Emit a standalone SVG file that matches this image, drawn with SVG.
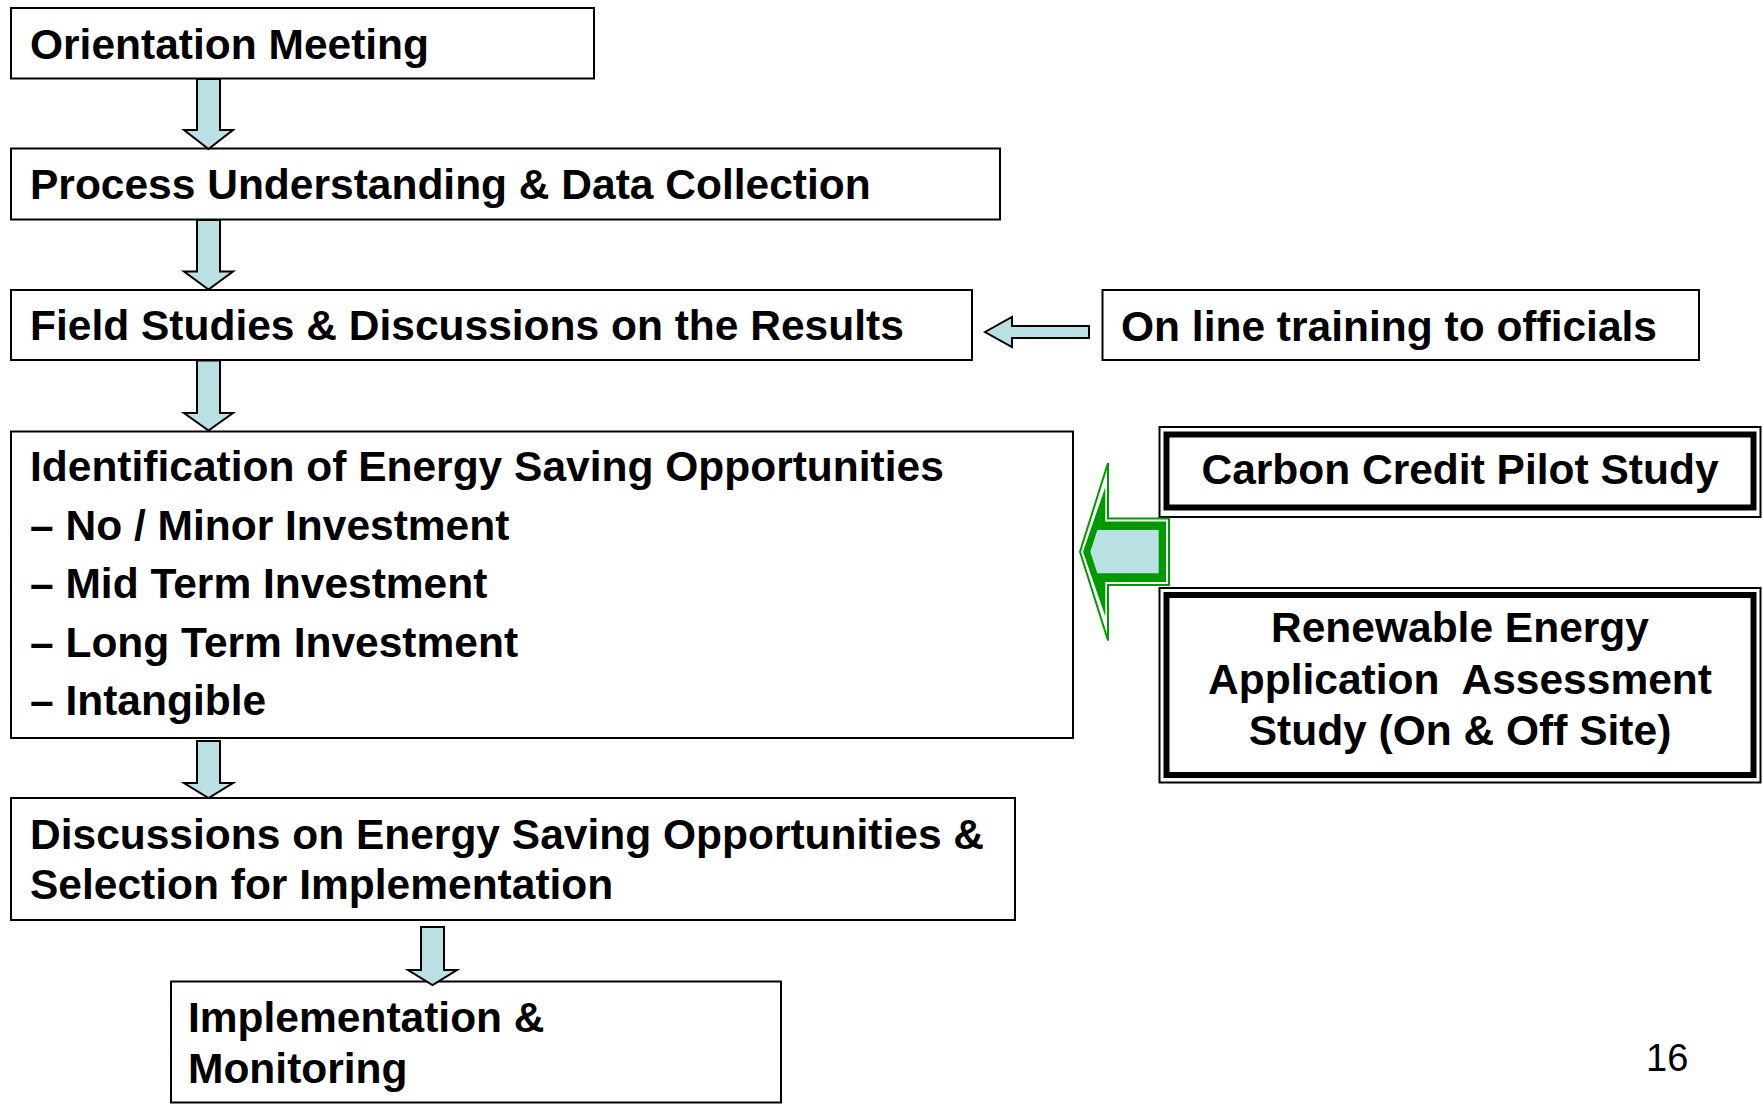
<svg xmlns="http://www.w3.org/2000/svg" width="1762" height="1104" viewBox="0 0 1762 1104">
<style>
.box{fill:#fff;stroke:#000;stroke-width:2}
.t{font-family:"Liberation Sans",Arial,sans-serif;font-weight:bold;font-size:42.5px;fill:#000}
.c{text-anchor:middle}
.arr{fill:#BBE0E3;stroke:#000;stroke-width:2;stroke-linejoin:miter}
.thin{fill:none;stroke:#000;stroke-width:2}
.thick{fill:none;stroke:#000;stroke-width:6}
.pg{font-family:"Liberation Sans",Arial,sans-serif;font-size:38px;fill:#000}
</style>
<rect width="1762" height="1104" fill="#fff"/>

<g id="n1">
<rect class="box" x="11" y="8" width="583" height="70.5"/>
<text class="t" x="30" y="58.5">Orientation Meeting</text>
</g>
<g id="n2">
<rect class="box" x="11" y="148.5" width="989" height="71"/>
<text class="t" x="30" y="199">Process Understanding &amp; Data Collection</text>
</g>
<g id="n3">
<rect class="box" x="11" y="290" width="961" height="70"/>
<text class="t" x="30" y="340">Field Studies &amp; Discussions on the Results</text>
</g>
<g id="n_online">
<rect class="box" x="1102.5" y="290" width="596.5" height="70"/>
<text class="t" x="1121" y="340.5">On line training to officials</text>
</g>
<g id="n4">
<rect class="box" x="11" y="431.5" width="1062" height="306.5"/>
<text class="t" x="30" y="481">Identification of Energy Saving Opportunities</text>
<text class="t" x="30" y="539.5">– No / Minor Investment</text>
<text class="t" x="30" y="598">– Mid Term Investment</text>
<text class="t" x="30" y="656.5">– Long Term Investment</text>
<text class="t" x="30" y="715">– Intangible</text>
</g>
<g id="n_carbon">
<rect class="thin" x="1159.5" y="427" width="601" height="90"/>
<rect class="thick" x="1166.5" y="434.5" width="587" height="73"/>
<text class="t c" x="1460" y="484">Carbon Credit Pilot Study</text>
</g>
<g id="n_renew">
<rect class="thin" x="1159.5" y="588" width="601" height="194.5"/>
<rect class="thick" x="1166.5" y="595" width="587" height="180"/>
<text class="t c" x="1460" y="642">Renewable Energy</text>
<text class="t c" x="1460" y="694" style="white-space:pre" xml:space="preserve">Application  Assessment</text>
<text class="t c" x="1460" y="745">Study (On &amp; Off Site)</text>
</g>
<g id="n5">
<rect class="box" x="11" y="798" width="1004" height="122"/>
<text class="t" x="30" y="848.5">Discussions on Energy Saving Opportunities &amp;</text>
<text class="t" x="30" y="898.5">Selection for Implementation</text>
</g>
<g id="n6">
<rect class="box" x="171" y="981.5" width="610" height="121"/>
<text class="t" x="188" y="1031.5">Implementation &amp;</text>
<text class="t" x="188" y="1083">Monitoring</text>
</g>

<g id="connectors">
<polygon class="arr" points="197,79 220,79 220,130 233,130 208.5,149 184,130 197,130"/>
<polygon class="arr" points="197,220 220,220 220,271.5 233,271.5 208.5,289.5 184,271.5 197,271.5"/>
<polygon class="arr" points="197,360.5 220,360.5 220,413 233,413 208.5,430.5 184,413 197,413"/>
<polygon class="arr" points="197,741 220,741 220,783 233,783 208.5,798 184,783 197,783"/>
<polygon class="arr" points="421,927 444,927 444,970 457,970 432.5,985 408,970 421,970"/>
<polygon class="arr" points="985,332 1012,317 1012,326 1089,326 1089,338 1012,338 1012,347"/>
<g id="green-arrow">
<polygon points="1080,551.7 1108,463 1108,518.5 1169,518.5 1169,585 1108,585 1108,640.5" fill="#fff" stroke="#009900" stroke-width="2"/>
<polygon points="1083,551.7 1105.3,487 1105.3,521.5 1166,521.5 1166,582 1105.3,582 1105.3,616.4" fill="#009900"/>
<polygon points="1090.3,551.7 1097.3,530 1158.7,530 1158.7,573.3 1097.3,573.3" fill="#BBE0E3"/>
</g>
</g>

<text class="pg" x="1646" y="1070.5">16</text>
</svg>
